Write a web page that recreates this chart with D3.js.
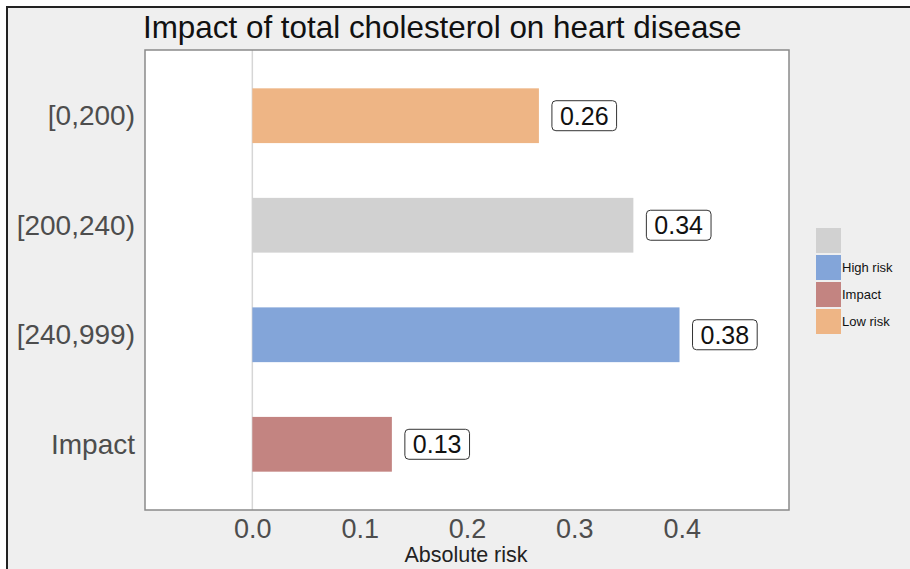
<!DOCTYPE html>
<html>
<head>
<meta charset="utf-8">
<script src="https://cdn.jsdelivr.net/npm/d3@7"></script>
<style>
  body { margin: 0; background: #fff; }
  svg text { font-family: "Liberation Sans", Arial, sans-serif; }
</style>
</head>
<body>
<svg id="chart" width="910" height="569"></svg>
<script>
// data
const categories = ["[0,200)", "[200,240)", "[240,999)", "Impact"];
const riskValues = [0.267, 0.355, 0.398, 0.13];
const valueLabels = ["0.26", "0.34", "0.38", "0.13"];
const groups = ["Low risk", "", "High risk", "Impact"];
const legendKeys = ["", "High risk", "Impact", "Low risk"];
const xTicks = [0.0, 0.1, 0.2, 0.3, 0.4];

const colors = {"": "#d1d1d1", "High risk": "#83a5d9", "Impact": "#c38481", "Low risk": "#eeb585"};

const svg = d3.select("#chart");
const panel = {left: 145, right: 789, top: 50, bottom: 510};

// outer background
svg.append("rect").attr("x", 7).attr("y", 7).attr("width", 930).attr("height", 600)
    .attr("fill", "#efefef").attr("stroke", "#222").attr("stroke-width", 2);

svg.append("rect").attr("x", panel.left).attr("y", panel.top)
    .attr("width", panel.right - panel.left).attr("height", panel.bottom - panel.top)
    .attr("fill", "#fff");

const x = d3.scaleLinear().domain([-0.1, 0.5]).range([panel.left, panel.right]);
const y = d3.scalePoint().domain(categories).range([panel.top, panel.bottom]).padding(0.6);
const barH = y.step() * 0.5;

// zero line
svg.append("line").attr("x1", x(0)).attr("x2", x(0)).attr("y1", panel.top).attr("y2", panel.bottom)
    .attr("stroke", "#d6d6d6").attr("stroke-width", 1.5);

const data = categories.map((c, i) => ({cat: c, v: riskValues[i], lab: valueLabels[i], grp: groups[i]}));

svg.append("g").selectAll("rect").data(data).join("rect")
    .attr("x", x(0))
    .attr("y", d => y(d.cat) - barH / 2)
    .attr("width", d => x(d.v) - x(0))
    .attr("height", barH)
    .attr("fill", d => colors[d.grp]);

// value labels
const labs = svg.append("g").selectAll("g").data(data).join("g")
    .attr("transform", d => `translate(${x(d.v) + 13},${y(d.cat)})`);
labs.append("rect").attr("class", "box");
labs.append("text")
    .attr("x", 8).attr("y", 9)
    .attr("font-size", 25).attr("fill", "#111")
    .text(d => d.lab);
labs.each(function() {
    const g = d3.select(this);
    const w = g.select("text").node().getComputedTextLength();
    g.select("rect.box").attr("x", 0).attr("y", -15).attr("width", w + 16).attr("height", 30)
        .attr("rx", 4).attr("fill", "#fff").attr("stroke", "#333").attr("stroke-width", 1);
});

// panel border
svg.append("rect").attr("x", panel.left).attr("y", panel.top)
    .attr("width", panel.right - panel.left).attr("height", panel.bottom - panel.top)
    .attr("fill", "none").attr("stroke", "#8a8a8a").attr("stroke-width", 1.5);

// y axis labels
const yAxis = svg.append("g").attr("transform", `translate(${panel.left},0)`)
    .call(d3.axisLeft(y).tickSize(0).tickPadding(10));
yAxis.select(".domain").remove();
yAxis.selectAll("text").attr("font-size", 28).attr("fill", "#4d4d4d")
    .attr("font-family", "Liberation Sans, Arial, sans-serif");

// x axis labels
const xAxis = svg.append("g").attr("transform", `translate(0,${panel.bottom})`)
    .call(d3.axisBottom(x).tickValues(xTicks).tickFormat(d3.format(".1f")).tickSize(0).tickPadding(9));
xAxis.select(".domain").remove();
xAxis.selectAll("text").attr("font-size", 27).attr("fill", "#4d4d4d")
    .attr("font-family", "Liberation Sans, Arial, sans-serif");

svg.append("text").attr("x", 466).attr("y", 562)
    .attr("text-anchor", "middle").attr("font-size", 21.5).attr("fill", "#222")
    .text("Absolute risk");

svg.append("text").attr("x", 143).attr("y", 38)
    .attr("font-size", 31.4).attr("fill", "#111")
    .text("Impact of total cholesterol on heart disease");

// legend
const legend = svg.append("g").attr("transform", "translate(816,228)");
const items = legend.selectAll("g").data(legendKeys).join("g")
    .attr("transform", (d, i) => `translate(0,${i * 27})`);
items.append("rect").attr("width", 25).attr("height", 25).attr("fill", d => colors[d]);
items.append("text").attr("x", 26).attr("y", 17).attr("font-size", 13).attr("fill", "#111")
    .text(d => d);
</script>
</body>
</html>
